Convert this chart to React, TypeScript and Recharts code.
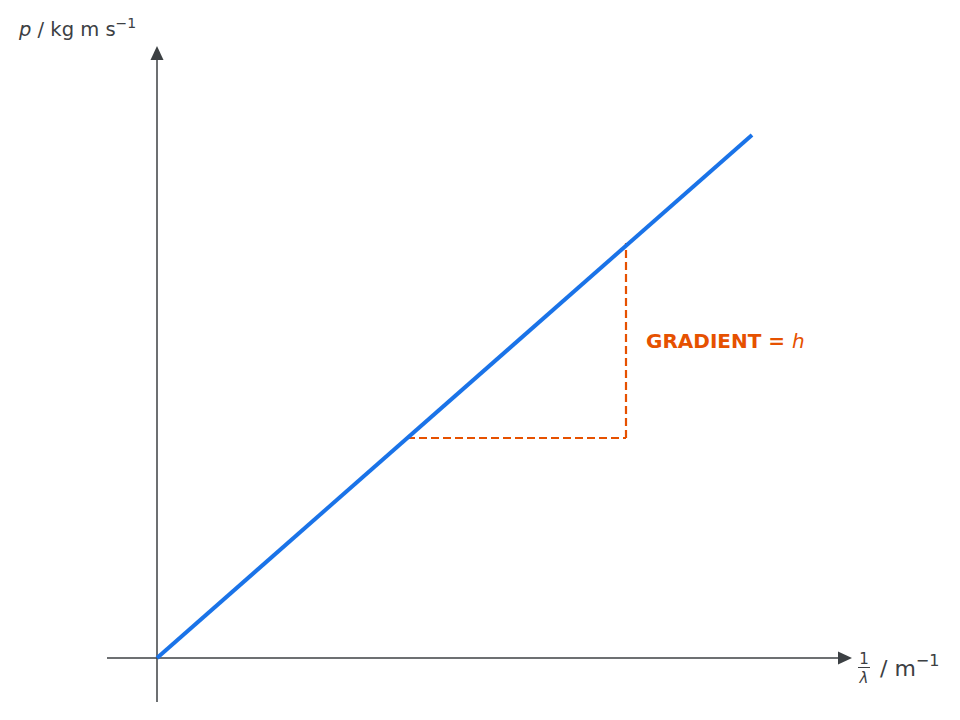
import { ComposedChart, Line, XAxis, YAxis, ReferenceLine, ReferenceDot } from "recharts";

// p against 1/λ: straight line through the origin, gradient = h.
const INV_WAVELENGTH = [0, 5.95];
const MOMENTUM = [0, 5.23];

// rise/run triangle drawn under the line
const TRIANGLE_X = [2.5, 4.69];
const TRIANGLE_Y = [2.2, 4.15];

// axis extents (data units)
const X_DOMAIN = [-1.57, 8.03];
const Y_DOMAIN = [-0.62, 6.58];
const X_AXIS_SPAN = [-0.5, 6.81];
const Y_AXIS_SPAN = [-0.44, 5.98];

const AXIS = "#3c4043";
const BLUE = "#1a73e8";
const ORANGE = "#e65100";
const FONT = "'DejaVu Sans', sans-serif";

const data = INV_WAVELENGTH.map((x, i) => ({ x, p: MOMENTUM[i] }));

const arrowRight = (props: any) => {
  const { cx, cy } = props;
  return <path d={`M${cx},${cy - 6.5} L${cx + 14},${cy} L${cx},${cy + 6.5} Z`} fill={AXIS} />;
};

const arrowUp = (props: any) => {
  const { cx, cy } = props;
  return <path d={`M${cx - 6.5},${cy} L${cx},${cy - 14} L${cx + 6.5},${cy} Z`} fill={AXIS} />;
};

const yLabel = (props: any) => {
  const { cx, cy } = props;
  return (
    <text x={cx} y={cy} fill={AXIS} fontFamily={FONT} fontSize={19.5}>
      <tspan fontStyle="italic">p</tspan>
      <tspan> / kg m s</tspan>
      <tspan fontSize={14} dy={-8}>−1</tspan>
    </text>
  );
};

const xLabel = (props: any) => {
  const { cx, cy } = props;
  return (
    <g fill={AXIS} fontFamily={FONT}>
      <text x={cx} y={cy - 12} fontSize={15} textAnchor="middle">1</text>
      <line x1={cx - 6} x2={cx + 6} y1={cy - 8.5} y2={cy - 8.5} stroke={AXIS} strokeWidth={1} />
      <text x={cx} y={cy + 7} fontSize={15} textAnchor="middle" fontStyle="italic">λ</text>
      <text x={cx + 16} y={cy} fontSize={22}>
        <tspan>/ m</tspan>
        <tspan fontSize={16} dy={-10}>−1</tspan>
      </text>
    </g>
  );
};

const gradientLabel = (props: any) => {
  const { cx, cy } = props;
  return (
    <text x={cx} y={cy} fill={ORANGE} fontFamily={FONT} fontSize={20}>
      <tspan fontWeight="bold">GRADIENT = </tspan>
      <tspan fontStyle="italic">h</tspan>
    </text>
  );
};

export default function App() {
  return (
    <div style={{ position: "absolute", left: 0, top: 0, background: "#fff" }}>
      <ComposedChart width={960} height={720} data={data} margin={{ top: 0, right: 0, bottom: 0, left: 0 }}>
        <XAxis type="number" dataKey="x" domain={X_DOMAIN} hide />
        <YAxis type="number" domain={Y_DOMAIN} hide />

        <ReferenceLine
          segment={[{ x: X_AXIS_SPAN[0], y: 0 }, { x: X_AXIS_SPAN[1], y: 0 }]}
          stroke={AXIS}
          strokeWidth={1.5}
        />
        <ReferenceLine
          segment={[{ x: 0, y: Y_AXIS_SPAN[0] }, { x: 0, y: Y_AXIS_SPAN[1] }]}
          stroke={AXIS}
          strokeWidth={1.5}
        />
        <ReferenceDot x={X_AXIS_SPAN[1]} y={0} shape={arrowRight} />
        <ReferenceDot x={0} y={Y_AXIS_SPAN[1]} shape={arrowUp} />

        <ReferenceLine
          segment={[{ x: TRIANGLE_X[0], y: TRIANGLE_Y[0] }, { x: TRIANGLE_X[1], y: TRIANGLE_Y[0] }]}
          stroke={ORANGE}
          strokeWidth={2.2}
          strokeDasharray="8 4"
        />
        <ReferenceLine
          segment={[{ x: TRIANGLE_X[1], y: TRIANGLE_Y[0] }, { x: TRIANGLE_X[1], y: TRIANGLE_Y[1] }]}
          stroke={ORANGE}
          strokeWidth={2.2}
          strokeDasharray="8 4"
        />

        <Line
          type="linear"
          dataKey="p"
          stroke={BLUE}
          strokeWidth={4}
          dot={false}
          activeDot={false}
          isAnimationActive={false}
        />

        <ReferenceDot x={-1.38} y={6.22} shape={yLabel} />
        <ReferenceDot x={7.07} y={-0.18} shape={xLabel} />
        <ReferenceDot x={4.89} y={3.1} shape={gradientLabel} />
      </ComposedChart>
    </div>
  );
}
